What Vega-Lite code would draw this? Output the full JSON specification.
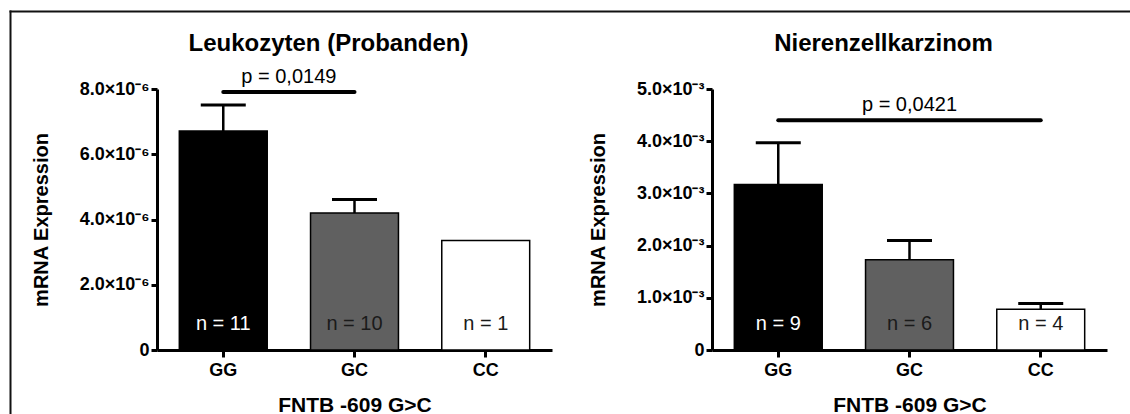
{
  "$schema": "https://vega.github.io/schema/vega-lite/v6.json",
  "background": "white",
  "padding": {"left": 7, "top": 9, "right": 0, "bottom": 0},
  "bounds": "flush",
  "spacing": 0,
  "vconcat": [
    {
      "width": 1,
      "height": 78,
      "view": {"stroke": null},
      "data": {"values": [{"v": 0}]},
      "mark": {"type": "point", "opacity": 0},
      "encoding": {
        "x": {
          "field": "v",
          "type": "quantitative",
          "scale": {"domain": [0, 1], "range": [-147, 0], "nice": false, "zero": false},
          "axis": {
            "orient": "top",
            "values": [0],
            "labels": false,
            "title": null,
            "grid": false,
            "domain": false,
            "tickColor": "#111111",
            "tickWidth": 2,
            "tickCap": "square",
            "tickSize": -403
          }
        },
        "y": {
          "field": "v",
          "type": "quantitative",
          "scale": {"domain": [0, 1], "nice": false},
          "axis": {
            "values": [1],
            "offset": 147,
            "labels": false,
            "title": null,
            "grid": false,
            "domain": false,
            "tickColor": "#111111",
            "tickWidth": 2,
            "tickCap": "square",
            "tickSize": -1121
          }
        }
      }
    },
    {
      "spacing": 36,
      "hconcat": [
        {
          "width": 395,
          "height": 261,
          "title": {"text": "Leukozyten (Probanden)", "fontSize": 24, "fontWeight": "bold", "frame": "group", "anchor": "middle", "dx": -26, "offset": 0, "dy": 8, "baseline": "alphabetic", "color": "black"},
          "data": {"values": [
            {"g": "GG", "mean": 6.71e-6, "upper": 7.51e-6, "label": "n = 11"},
            {"g": "GC", "mean": 4.20e-6, "upper": 4.61e-6, "label": "n = 10"},
            {"g": "CC", "mean": 3.36e-6, "upper": null, "label": "n = 1"}
          ]},
          "encoding": {
            "x": {"field": "g", "type": "nominal", "title": "FNTB -609 G>C", "scale": {"domain": ["GG", "GC", "CC"], "paddingInner": 0.33, "paddingOuter": 0.17}}
          },
          "layer": [
            {
              "mark": {"type": "bar", "stroke": "black", "strokeWidth": 1.5},
              "encoding": {
                "y": {"field": "mean", "type": "quantitative", "title": "mRNA Expression", "scale": {"domain": [0, 8e-6], "nice": false},
                  "axis": {"values": [0, 2e-6, 4e-6, 6e-6, 8e-6], "labelExpr": "datum.value == 0 ? '0' : format(datum.value * 1e6, '.1f') + '×10⁻⁶'"}},
                "fill": {"field": "g", "type": "nominal", "scale": {"domain": ["GG", "GC", "CC"], "range": ["#000000", "#606060", "#ffffff"]}, "legend": null}
              }
            },
            {
              "transform": [{"filter": "isValid(datum.upper)"}],
              "mark": {"type": "rule", "strokeWidth": 2.5, "color": "black"},
              "encoding": {
                "y": {"field": "mean", "type": "quantitative", "title": "mRNA Expression", "scale": {"domain": [0, 8e-6], "nice": false}},
                "y2": {"field": "upper"}
              }
            },
            {
              "transform": [{"filter": "isValid(datum.upper)"}],
              "mark": {"type": "tick", "orient": "horizontal", "size": 45, "thickness": 3, "color": "black", "opacity": 1},
              "encoding": {
                "y": {"field": "upper", "type": "quantitative", "title": "mRNA Expression", "scale": {"domain": [0, 8e-6], "nice": false}}
              }
            },
            {
              "mark": {"type": "text", "fontSize": 20, "dy": -26, "baseline": "middle"},
              "encoding": {
                "y": {"datum": 0, "type": "quantitative", "title": "mRNA Expression", "scale": {"domain": [0, 8e-6], "nice": false}},
                "text": {"field": "label"},
                "color": {"condition": {"test": "datum.g === 'GG'", "value": "white"}, "value": "#1a1a1a"}
              }
            },
            {
              "data": {"values": [{"from": "GG", "to": "GC", "mid": "GG", "p": 7.91e-6, "ptext": "p = 0,0149"}]},
              "mark": {"type": "rule", "strokeWidth": 4, "strokeCap": "round", "color": "black"},
              "encoding": {
                "x": {"field": "from", "type": "nominal", "title": "FNTB -609 G>C", "bandPosition": 0.5, "scale": {"domain": ["GG", "GC", "CC"]}},
                "x2": {"field": "to", "bandPosition": 0.5, "title": "FNTB -609 G>C"},
                "y": {"field": "p", "type": "quantitative", "title": "mRNA Expression", "scale": {"domain": [0, 8e-6], "nice": false}}
              }
            },
            {
              "data": {"values": [{"from": "GG", "to": "GC", "mid": "GG", "p": 7.91e-6, "ptext": "p = 0,0149"}]},
              "mark": {"type": "text", "fontSize": 20, "dx": 65.6, "dy": -9, "baseline": "alphabetic", "color": "black"},
              "encoding": {
                "x": {"field": "mid", "type": "nominal", "title": "FNTB -609 G>C", "scale": {"domain": ["GG", "GC", "CC"]}},
                "y": {"field": "p", "type": "quantitative", "title": "mRNA Expression", "scale": {"domain": [0, 8e-6], "nice": false}},
                "text": {"field": "ptext"}
              }
            }
          ]
        },
        {
          "width": 395,
          "height": 261,
          "title": {"text": "Nierenzellkarzinom", "fontSize": 24, "fontWeight": "bold", "frame": "group", "anchor": "middle", "dx": -26, "offset": 0, "dy": -5, "baseline": "alphabetic", "color": "black"},
          "data": {"values": [
            {"g": "GG", "mean": 3.17e-3, "upper": 3.97e-3, "label": "n = 9"},
            {"g": "GC", "mean": 1.73e-3, "upper": 2.10e-3, "label": "n = 6"},
            {"g": "CC", "mean": 0.78e-3, "upper": 0.89e-3, "label": "n = 4"}
          ]},
          "encoding": {
            "x": {"field": "g", "type": "nominal", "title": "FNTB -609 G>C", "scale": {"domain": ["GG", "GC", "CC"], "paddingInner": 0.33, "paddingOuter": 0.17}}
          },
          "layer": [
            {
              "mark": {"type": "bar", "stroke": "black", "strokeWidth": 1.5},
              "encoding": {
                "y": {"field": "mean", "type": "quantitative", "title": "mRNA Expression", "scale": {"domain": [0, 5e-3], "nice": false},
                  "axis": {"values": [0, 1e-3, 2e-3, 3e-3, 4e-3, 5e-3], "labelExpr": "datum.value == 0 ? '0' : format(datum.value * 1e3, '.1f') + '×10⁻³'"}},
                "fill": {"field": "g", "type": "nominal", "scale": {"domain": ["GG", "GC", "CC"], "range": ["#000000", "#606060", "#ffffff"]}, "legend": null}
              }
            },
            {
              "transform": [{"filter": "isValid(datum.upper)"}],
              "mark": {"type": "rule", "strokeWidth": 2.5, "color": "black"},
              "encoding": {
                "y": {"field": "mean", "type": "quantitative", "title": "mRNA Expression", "scale": {"domain": [0, 5e-3], "nice": false}},
                "y2": {"field": "upper"}
              }
            },
            {
              "transform": [{"filter": "isValid(datum.upper)"}],
              "mark": {"type": "tick", "orient": "horizontal", "size": 45, "thickness": 3, "color": "black", "opacity": 1},
              "encoding": {
                "y": {"field": "upper", "type": "quantitative", "title": "mRNA Expression", "scale": {"domain": [0, 5e-3], "nice": false}}
              }
            },
            {
              "mark": {"type": "text", "fontSize": 20, "dy": -26, "baseline": "middle"},
              "encoding": {
                "y": {"datum": 0, "type": "quantitative", "title": "mRNA Expression", "scale": {"domain": [0, 5e-3], "nice": false}},
                "text": {"field": "label"},
                "color": {"condition": {"test": "datum.g === 'GG'", "value": "white"}, "value": "#1a1a1a"}
              }
            },
            {
              "data": {"values": [{"from": "GG", "to": "CC", "mid": "GC", "p": 4.40e-3, "ptext": "p = 0,0421"}]},
              "mark": {"type": "rule", "strokeWidth": 4, "strokeCap": "round", "color": "black"},
              "encoding": {
                "x": {"field": "from", "type": "nominal", "title": "FNTB -609 G>C", "bandPosition": 0.5, "scale": {"domain": ["GG", "GC", "CC"]}},
                "x2": {"field": "to", "bandPosition": 0.5, "title": "FNTB -609 G>C"},
                "y": {"field": "p", "type": "quantitative", "title": "mRNA Expression", "scale": {"domain": [0, 5e-3], "nice": false}}
              }
            },
            {
              "data": {"values": [{"from": "GG", "to": "CC", "mid": "GC", "p": 4.40e-3, "ptext": "p = 0,0421"}]},
              "mark": {"type": "text", "fontSize": 20, "dy": -9, "baseline": "alphabetic", "color": "black"},
              "encoding": {
                "x": {"field": "mid", "type": "nominal", "title": "FNTB -609 G>C", "scale": {"domain": ["GG", "GC", "CC"]}},
                "y": {"field": "p", "type": "quantitative", "title": "mRNA Expression", "scale": {"domain": [0, 5e-3], "nice": false}},
                "text": {"field": "ptext"}
              }
            }
          ]
        }
      ]
    }
  ],
  "config": {
    "font": "Liberation Sans",
    "view": {"stroke": null},
    "axis": {"domainColor": "black", "tickColor": "black", "labelColor": "black", "titleColor": "black", "grid": false, "labelFontWeight": "bold", "titleFontWeight": "bold"},
    "axisX": {"domainWidth": 3, "tickWidth": 3, "tickSize": 7, "labelFontSize": 18, "labelPadding": 4, "labelAngle": 0, "titleFontSize": 21, "titlePadding": 15},
    "axisY": {"domainWidth": 3, "tickWidth": 3, "tickSize": 6, "labelFontSize": 18, "labelPadding": 2, "titleFontSize": 20, "titlePadding": 28, "labelOverlap": false, "labelFlush": false}
  }
}
